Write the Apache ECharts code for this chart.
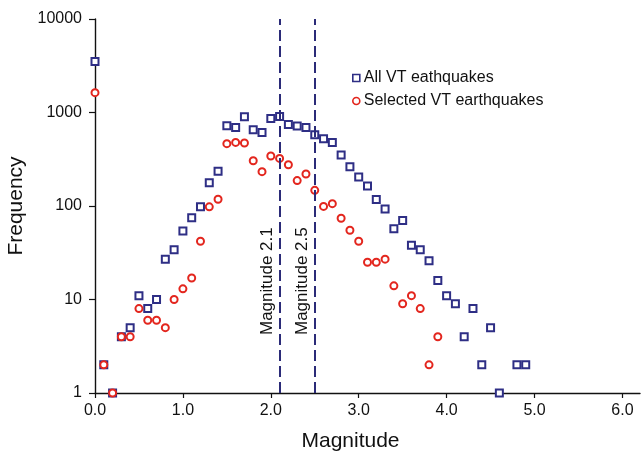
<!DOCTYPE html>
<html>
<head>
<meta charset="utf-8">
<script src="https://cdn.jsdelivr.net/npm/echarts@6/dist/echarts.min.js"></script>
<style>
html,body{margin:0;padding:0;background:#fff;}
#chart{width:641px;height:455px;}
</style>
</head>
<body>
<div id="chart"></div>
<script>
// ---- data ----
const allMagnitudes = [0.0,0.1,0.2,0.3,0.4,0.5,0.6,0.7,0.8,0.9,1.0,1.1,1.2,1.3,1.4,1.5,1.6,1.7,1.8,1.9,2.0,2.1,2.2,2.3,2.4,2.5,2.6,2.7,2.8,2.9,3.0,3.1,3.2,3.3,3.4,3.5,3.6,3.7,3.8,3.9,4.0,4.1,4.2,4.3,4.4,4.5,4.6,4.8,4.9];
const allCounts = [3520,2,1,4,5,11,8,10,27,34,54,75,98,177,235,722,693,902,655,612,865,908,745,715,693,579,525,479,351,263,204,164,117,93,57,70,38,34,26,16,11,9,4,8,2,5,1,2,2];
const selMagnitudes = [0.0,0.1,0.2,0.3,0.4,0.5,0.6,0.7,0.8,0.9,1.0,1.1,1.2,1.3,1.4,1.5,1.6,1.7,1.8,1.9,2.0,2.1,2.2,2.3,2.4,2.5,2.6,2.7,2.8,2.9,3.0,3.1,3.2,3.3,3.4,3.5,3.6,3.7,3.8,3.9];
const selCounts = [1630,2,1,4,4,8,6,6,5,10,13,17,42,98,118,464,479,472,305,233,343,323,276,187,220,147,99,106,74,55,42,25,25,27,14,9,11,8,2,4];
const thresholds = [2.1, 2.5];
const thresholdLabels = ['Magnitude 2.1', 'Magnitude 2.5'];
const xTicks = [0, 1, 2, 3, 4, 5, 6];
const seriesNames = ['All VT eathquakes', 'Selected VT earthquakes'];

const FONT = 'Liberation Sans';
const BLUE = '#2e2e85';
const RED = '#e3261e';
const DASH = '#2b2b78';

const chart = echarts.init(document.getElementById('chart'), null, {renderer: 'canvas'});
const option = {
  animation: false,
  backgroundColor: '#fff',
  textStyle: {fontFamily: FONT},
  grid: {left: 95, right: 1, top: 19, bottom: 62, containLabel: false, outerBoundsMode: 'none'},
  legend: {
    orient: 'vertical',
    left: 347, top: 65,
    itemWidth: 7, itemHeight: 7, itemGap: 7,
    textStyle: {fontFamily: FONT, fontSize: 16, color: '#111', padding: [0,0,0,-1]},
    data: [
      {name: seriesNames[0], icon: 'rect', itemStyle: {color: '#fff', borderColor: BLUE, borderWidth: 1.6}},
      {name: seriesNames[1], icon: 'circle', itemStyle: {color: '#fff', borderColor: RED, borderWidth: 1.6}}
    ]
  },
  xAxis: {
    type: 'value', min: 0, max: 6.2,
    name: 'Magnitude', nameLocation: 'middle', nameGap: 38,
    nameTextStyle: {fontFamily: FONT, fontSize: 21, color: '#111', padding: [0, 34, 0, 0]},
    axisLine: {onZero: false, lineStyle: {color: '#111', width: 1.4}},
    axisTick: {show: true, length: 5, lineStyle: {color: '#111', width: 1.2}, customValues: xTicks},
    axisLabel: {fontFamily: FONT, fontSize: 16, color: '#111', margin: 10, customValues: xTicks,
      formatter: v => v.toFixed(1)},
    splitLine: {show: false}
  },
  yAxis: {
    type: 'log', logBase: 10, min: 1, max: 10000,
    name: 'Frequency', nameLocation: 'middle', nameGap: 62,
    nameTextStyle: {fontFamily: FONT, fontSize: 21, color: '#111'},
    axisLine: {show: true, lineStyle: {color: '#111', width: 1.4}},
    axisTick: {show: true, length: 6, lineStyle: {color: '#111', width: 1.2}},
    minorTick: {show: false},
    axisLabel: {fontFamily: FONT, fontSize: 16, color: '#111', margin: 13,
      formatter: v => String(Math.round(v))},
    splitLine: {show: false}
  },
  series: [
    {
      name: seriesNames[0], type: 'scatter',
      symbol: 'rect', symbolSize: 7,
      itemStyle: {color: '#fff', borderColor: BLUE, borderWidth: 2, opacity: 1},
      data: allMagnitudes.map((m, i) => [m, allCounts[i]]),
      z: 3,
      markLine: {
        silent: true, symbol: ['none', 'none'], animation: false,
        lineStyle: {color: DASH, width: 2, type: [11, 5]},
        label: {show: true, position: 'insideStartTop', distance: [58, 4],
          fontFamily: FONT, fontSize: 17, color: '#111'},
        data: thresholds.map((t, i) => ({xAxis: t, label: {formatter: thresholdLabels[i]}}))
      }
    },
    {
      name: seriesNames[1], type: 'scatter',
      symbol: 'circle', symbolSize: 7,
      itemStyle: {color: '#fff', borderColor: RED, borderWidth: 2, opacity: 1},
      data: selMagnitudes.map((m, i) => [m, selCounts[i]]),
      z: 4
    }
  ]
};
chart.setOption(option);
</script>
</body>
</html>
